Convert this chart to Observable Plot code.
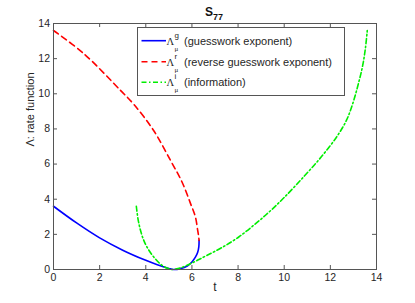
<!DOCTYPE html>
<html><head><meta charset="utf-8">
<script src="https://cdn.jsdelivr.net/npm/d3@7"></script>
<script src="https://cdn.jsdelivr.net/npm/@observablehq/plot@0.6"></script>
<style>body{margin:0;background:#fff;} #chart{width:415px;height:303px;}</style>
</head><body><div id="chart"></div>
<script>
const xTicks = [0, 2, 4, 6, 8, 10, 12, 14];
const yTicks = [0, 2, 4, 6, 8, 10, 12, 14];

// Λ^g (guesswork exponent)
const guessT = [0, 1, 2, 3, 4, 4.5, 5.0, 5.2, 5.5, 5.8, 6.0, 6.15, 6.25, 6.3, 6.31];
const guessL = [3.6, 2.65, 1.8, 1.1, 0.52, 0.27, 0.06, 0.0, 0.05, 0.2, 0.43, 0.7, 0.98, 1.3, 1.66];

// Λ^r (reverse guesswork exponent)
const revT = [0, 1.3, 2.9, 3.48, 4.34, 5.07, 5.57, 5.94, 6.15, 6.25, 6.29, 6.31];
const revL = [13.6, 12.3, 10.2, 9.4, 7.91, 6.21, 4.98, 3.75, 2.99, 2.23, 1.9, 1.66];

// Λ^i (information)
const infoT = [3.59, 3.66, 3.77, 3.9, 4.05, 4.34, 4.7, 5.0, 5.14, 5.4, 5.79, 6.2, 6.66, 7.3, 8.03, 8.8, 9.41, 10.0, 10.86, 11.6, 12.3, 12.7, 12.96, 13.2, 13.4, 13.52, 13.6];
const infoL = [3.6, 2.9, 2.23, 1.7, 1.28, 0.72, 0.24, 0.04, 0.0, 0.05, 0.24, 0.5, 0.81, 1.25, 1.85, 2.65, 3.35, 4.1, 5.3, 6.4, 7.6, 8.5, 9.4, 10.5, 11.6, 12.6, 13.6];

const rows = (t, l) => t.map((x, i) => ({t: x, l: l[i]}));

const W = 415, H = 303, mL = 53, mR = 39, mT = 23, mB = 34;
const fh = H - mT - mB, fw = W - mL - mR;
const axisColor = "#555";
const font = "'Liberation Sans', Helvetica, Arial, sans-serif";

const plot = Plot.plot({
  width: W, height: H,
  marginLeft: mL, marginRight: mR, marginTop: mT, marginBottom: mB,
  style: {fontFamily: font, fontSize: "10.5px", color: "#262626", background: "white", overflow: "visible"},
  x: {domain: [0, 14]},
  y: {domain: [0, 14]},
  marks: [
    Plot.axisX(xTicks, {tickSize: 0, tickPadding: 4.5, label: null, fill: "#262626"}),
    Plot.axisY(yTicks, {tickSize: 0, tickPadding: 3.5, label: null, fill: "#262626"}),
    Plot.tickX(xTicks, {x: d => d, insetTop: fh - 4, stroke: axisColor}),
    Plot.tickX(xTicks, {x: d => d, insetBottom: fh - 4, stroke: axisColor}),
    Plot.tickY(yTicks, {y: d => d, insetRight: fw - 4, stroke: axisColor}),
    Plot.tickY(yTicks, {y: d => d, insetLeft: fw - 4, stroke: axisColor}),
    Plot.line(rows(guessT, guessL), {x: "t", y: "l", stroke: "#0000ff", strokeWidth: 1.6, curve: "catmull-rom"}),
    Plot.line(rows(revT, revL), {x: "t", y: "l", stroke: "#ff0000", strokeWidth: 1.6, strokeDasharray: "6,4", curve: "catmull-rom"}),
    Plot.line(rows(infoT, infoL), {x: "t", y: "l", stroke: "#00ee00", strokeWidth: 1.6, strokeDasharray: "5,2.5,1.5,2.5", curve: "catmull-rom"}),
    Plot.frame({stroke: axisColor}),
    Plot.text(["t"], {frameAnchor: "bottom", dy: 21, fontSize: 12, fill: "#262626"}),
    Plot.text(["Λ: rate function"], {frameAnchor: "left", rotate: -90, dx: -23, fontSize: 11, fill: "#262626"})
  ]
});
document.getElementById("chart").appendChild(plot);

const svg = d3.select(plot);
// Title
const title = svg.append("text")
  .attr("x", 214).attr("y", 16)
  .attr("text-anchor", "middle")
  .style("font-family", font).style("font-weight", "bold").style("font-size", "12px").attr("fill", "#111");
title.append("tspan").text("S");
title.append("tspan").attr("dy", 4).style("font-size", "9px").text("77");

// Legend
const leg = svg.append("g").attr("text-anchor", "start");
leg.append("rect").attr("x", 137.5).attr("y", 27.5).attr("width", 207).attr("height", 68)
  .attr("fill", "white").attr("stroke", axisColor);
const entries = [
  {sup: "g", label: "(guesswork exponent)", color: "#0000ff", dash: null, y: 40.7},
  {sup: "r", label: "(reverse guesswork exponent)", color: "#ff0000", dash: "6,4", y: 61.7},
  {sup: "i", label: "(information)", color: "#00ee00", dash: "5,2.5,1.5,2.5", y: 82.3}
];
for (const e of entries) {
  leg.append("line").attr("x1", 141.5).attr("x2", 166).attr("y1", e.y).attr("y2", e.y)
    .attr("stroke", e.color).attr("stroke-width", 1.6).attr("stroke-dasharray", e.dash);
  leg.append("text").attr("x", 166.5).attr("y", e.y + 4).attr("text-anchor", "start")
    .style("font-family", "'Liberation Serif', 'Times New Roman', serif").style("font-size", "10.5px").attr("fill", "#262626").text("Λ");
  leg.append("text").attr("x", 174.5).attr("y", e.y - 3).attr("text-anchor", "start")
    .style("font-family", font).style("font-size", "8px").attr("fill", "#262626").text(e.sup);
  leg.append("text").attr("x", 174.5).attr("y", e.y + 10).attr("text-anchor", "start")
    .style("font-family", "'Liberation Serif', 'Times New Roman', serif").style("font-size", "7px").attr("fill", "#262626").text("μ");
  leg.append("text").attr("x", 184).attr("y", e.y + 4).attr("text-anchor", "start")
    .style("font-family", font).style("font-size", "11px").attr("fill", "#262626").text(e.label);
}
</script>
</body></html>
